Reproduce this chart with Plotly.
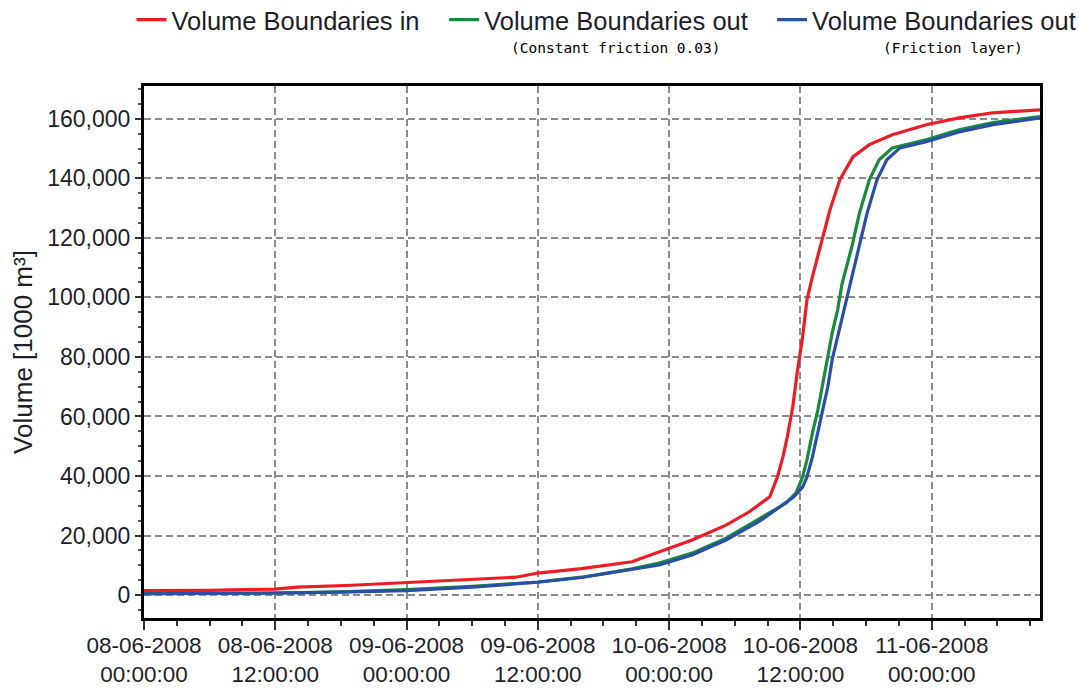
import pandas as pd
import plotly.graph_objects as go

START = "2008-06-08 00:00:00"

# hours since start, values in 1000 m3
red_t = [0, 6, 12, 14, 19, 23, 26, 30, 34, 36, 40, 44.6, 47.1, 48, 50.1, 53.2, 55.3, 57.2, 57.9,
         58.4, 58.8, 59.3, 59.7, 60.2, 60.6, 61.1, 62.0, 62.7, 63.6, 64.8, 66.3, 68.4, 71.5, 74.5,
         77.6, 81.9]
red_v = [1500, 1600, 2000, 2700, 3300, 4000, 4700, 5300, 6000, 7400, 8900, 11200, 14400, 15800,
         18500, 23500, 27900, 33000, 39700, 46400, 53100, 63200, 74600, 86700, 99200, 107000,
         119300, 129400, 139500, 147200, 151300, 154600, 158000, 160300, 162000, 163000]

green_t = [0, 6, 12, 18, 24, 30, 36, 40, 44.6, 47.1, 50.1, 53.2, 56.3, 58.7, 59.6, 60.2, 60.6,
           61.1, 61.6, 62.0, 62.5, 62.9, 63.4, 63.8, 64.7, 65.4, 66.3, 67.2, 68.4, 71.5, 74.5,
           77.6, 81.9]
green_v = [500, 550, 700, 1100, 1800, 2900, 4400, 6000, 8800, 10750, 14100, 19100, 25900, 30900,
           34300, 39700, 45400, 54500, 62200, 69900, 80000, 88000, 95800, 104500, 117000, 128400,
           139500, 146200, 150200, 152900, 156300, 158700, 160700]

blue_t = [0, 6, 12, 18, 24, 30, 36, 40, 44.6, 47.1, 50.1, 53.2, 56.3, 59.4, 60.2, 60.6, 61.1,
          61.6, 62.0, 62.5, 62.9, 63.4, 63.8, 64.3, 64.7, 65.4, 66.1, 67.0, 67.9, 69.1, 71.5,
          74.5, 77.6, 81.9]
blue_v = [450, 500, 650, 1000, 1500, 2700, 4300, 5900, 8600, 10100, 13450, 18500, 24900, 33000,
          36300, 39700, 46400, 54500, 61200, 69900, 79000, 86700, 93400, 100200, 106400, 117000,
          128400, 139500, 146200, 150200, 152300, 155600, 158000, 160300]

names = ["Volume Boundaries in", "Volume Boundaries out", "Volume Boundaries out"]
subtitles = ["(Constant friction 0.03)", "(Friction layer)"]
colors = ["#ee1c25", "#1a8a3c", "#2a4fa6"]

t0 = pd.Timestamp(START)


def to_dates(hours):
    return [t0 + pd.Timedelta(hours=h) for h in hours]


FONT = "Liberation Sans, Arial, sans-serif"
TXT = "#1e1e2a"

fig = go.Figure()
series = [(red_t, red_v), (green_t, green_v), (blue_t, blue_v)]
legend_ids = ["legend", "legend2", "legend3"]
for (t, v), name, col, lg in zip(series, names, colors, legend_ids):
    fig.add_trace(go.Scatter(x=to_dates(t), y=v, mode="lines", name=name,
                             line=dict(color=col, width=3.2), legend=lg))

leg_common = dict(orientation="h", yanchor="middle", xanchor="left", y=1.124,
                  bgcolor="rgba(0,0,0,0)", borderwidth=0,
                  font=dict(family=FONT, size=25.5, color=TXT))
fig.update_layout(
    width=1079, height=689,
    margin=dict(l=144, r=39, t=86, b=71, autoexpand=False),
    paper_bgcolor="white", plot_bgcolor="white",
    showlegend=True,
    legend=dict(x=-0.014, **leg_common),
    legend2=dict(x=0.335, **leg_common),
    legend3=dict(x=0.701, **leg_common),
)

fig.add_annotation(text=subtitles[0], xref="paper", yref="paper", x=0.646, y=1.0714,
                   xanchor="right", yanchor="middle", showarrow=False,
                   font=dict(family="DejaVu Sans Mono", size=14.5, color="#000"))
fig.add_annotation(text=subtitles[1], xref="paper", yref="paper", x=0.983, y=1.0714,
                   xanchor="right", yanchor="middle", showarrow=False,
                   font=dict(family="DejaVu Sans Mono", size=14.5, color="#000"))

fig.update_xaxes(
    type="date", automargin=False,
    range=[t0, t0 + pd.Timedelta(hours=81.9)],
    tick0=t0, dtick=12 * 3600 * 1000,
    tickformat="%d-%m-%Y<br>%H:%M:%S",
    ticks="outside", ticklen=9, tickwidth=1.5, tickcolor="#333",
    ticklabelstandoff=-4,
    minor=dict(dtick=3 * 3600 * 1000, ticks="outside", ticklen=5, tickcolor="#333", showgrid=False),
    showgrid=True, gridcolor="#8c8c8c", gridwidth=1.5, griddash="7px,4px",
    showline=True, linecolor="black", linewidth=3, mirror=True,
    tickfont=dict(family=FONT, size=22.5, color=TXT),
    zeroline=False,
)
fig.update_yaxes(
    automargin=False,
    range=[-7700, 171000],
    tick0=0, dtick=20000, tickformat=",d",
    ticks="outside", ticklen=6, tickwidth=1.5, tickcolor="#333",
    minor=dict(dtick=5000, ticks="outside", ticklen=3, tickcolor="#555", showgrid=False),
    showgrid=True, gridcolor="#8c8c8c", gridwidth=1.5, griddash="7px,4px",
    showline=True, linecolor="black", linewidth=3, mirror=True,
    tickfont=dict(family=FONT, size=23, color=TXT),
    title=dict(text="Volume [1000 m³]", font=dict(family=FONT, size=26, color=TXT), standoff=8),
    zeroline=False,
)

fig.write_html("out.html")
